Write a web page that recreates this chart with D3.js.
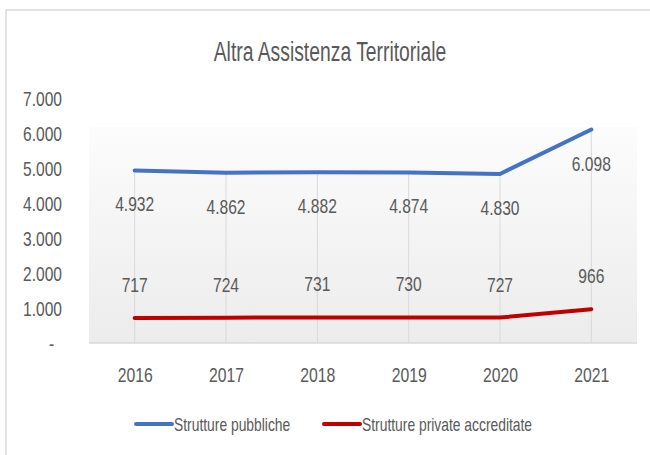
<!DOCTYPE html>
<html>
<head>
<meta charset="utf-8">
<script src="https://cdn.jsdelivr.net/npm/d3@7"></script>
<style>
  body { margin: 0; background: #fff; }
  svg text { font-family: "Liberation Sans", Arial, sans-serif; fill: #595959; }
</style>
</head>
<body>
<svg id="chart" width="650" height="455"></svg>
<script>
// data
const years = ["2016", "2017", "2018", "2019", "2020", "2021"];
const pubbliche = [4932, 4862, 4882, 4874, 4830, 6098];
const private_ = [717, 724, 731, 730, 727, 966];
const yTicks = [0, 1000, 2000, 3000, 4000, 5000, 6000, 7000];
const seriesNames = ["Strutture pubbliche", "Strutture private accreditate"];
const colors = ["#4472C4", "#C00000"];

const svg = d3.select("#chart");
const fmt = (v) => v === 0 ? "-" : d3.format(",")(v).replace(/,/g, ".");

// narrow look: squeeze text horizontally
const squeeze = "scale(0.78,1)";

const plotLeft = 89, plotRight = 637, plotTop = 98, plotBottom = 343;
const bgTop = 127;

const x = d3.scalePoint().domain(years).range([plotLeft, plotRight]).padding(0.5);
const y = d3.scaleLinear().domain([0, 7000]).range([plotBottom, plotTop]);

// outer frame
svg.append("path")
  .attr("d", "M6,455 V10 H650")
  .attr("fill", "none")
  .attr("stroke", "#d9d9d9")
  .attr("stroke-width", 1.5);

// plot background gradient
const grad = svg.append("defs").append("linearGradient")
  .attr("id", "bg").attr("x1", 0).attr("y1", 0).attr("x2", 0).attr("y2", 1);
grad.append("stop").attr("offset", "0%").attr("stop-color", "#fcfcfc");
grad.append("stop").attr("offset", "100%").attr("stop-color", "#ececec");

svg.append("rect")
  .attr("x", plotLeft).attr("y", bgTop)
  .attr("width", plotRight - plotLeft).attr("height", plotBottom - bgTop)
  .attr("fill", "url(#bg)");

// title
svg.append("g")
  .attr("transform", "translate(330,61)")
  .append("text")
  .attr("transform", "scale(0.69,1)")
  .attr("text-anchor", "middle")
  .style("font-size", "28px")
  .text("Altra Assistenza Territoriale");

// drop lines from highest point to the axis
svg.append("g").selectAll("line")
  .data(years).enter().append("line")
  .attr("x1", (d) => x(d)).attr("x2", (d) => x(d))
  .attr("y1", (d, i) => y(Math.max(pubbliche[i], private_[i])))
  .attr("y2", plotBottom)
  .attr("stroke", "#d9d9d9").attr("stroke-width", 1);

// baseline
svg.append("line")
  .attr("x1", plotLeft).attr("x2", plotRight)
  .attr("y1", plotBottom).attr("y2", plotBottom)
  .attr("stroke", "#d9d9d9").attr("stroke-width", 1.5);

// y axis labels
const yAxis = svg.append("g")
  .attr("transform", `translate(62,0)`)
  .call(d3.axisLeft(y).tickValues(yTicks).tickFormat(fmt).tickSize(0).tickPadding(0));
yAxis.select(".domain").remove();
yAxis.selectAll("text")
  .style("font-size", "20px")
  .attr("fill", "#595959")
  .attr("text-anchor", "end")
  .attr("transform", squeeze)
  .attr("dy", "0.36em");
yAxis.selectAll("text").filter((d) => d === 0)
  .attr("x", -10);

// x axis labels
const xAxis = svg.append("g")
  .attr("transform", `translate(0,${plotBottom})`)
  .call(d3.axisBottom(x).tickSize(0).tickPadding(0));
xAxis.select(".domain").remove();
xAxis.selectAll("text")
  .style("font-size", "21px")
  .attr("fill", "#595959")
  .attr("transform", "scale(0.75,1)")
  .attr("y", 39)
  .attr("dy", 0);

// lines
const line = d3.line().x((d, i) => x(years[i])).y((d) => y(d));
[pubbliche, private_].forEach((vals, s) => {
  svg.append("path")
    .datum(vals)
    .attr("d", line)
    .attr("fill", "none")
    .attr("stroke", colors[s])
    .attr("stroke-width", 4)
    .attr("stroke-linecap", "round")
    .attr("stroke-linejoin", "round");
});

// data labels: public below the line, private above
function addLabels(vals, offset) {
  svg.append("g").selectAll("g")
    .data(vals).enter().append("g")
    .attr("transform", (d, i) => `translate(${x(years[i])},${y(d) + offset})`)
    .append("text")
    .attr("transform", squeeze)
    .attr("text-anchor", "middle")
    .style("font-size", "20px")
    .text(fmt);
}
addLabels(pubbliche, 41);
addLabels(private_, -26);

// legend
const legendX = [135, 323];
const legend = svg.append("g").selectAll("g")
  .data(seriesNames).enter().append("g")
  .attr("transform", (d, i) => `translate(${legendX[i]},424)`);
legend.append("line")
  .attr("x1", 1).attr("x2", 37)
  .attr("stroke", (d, i) => colors[i])
  .attr("stroke-width", 4)
  .attr("stroke-linecap", "round");
legend.append("g")
  .attr("transform", "translate(39,7)")
  .append("text")
  .attr("transform", "scale(0.77,1)")
  .style("font-size", "18px")
  .text((d) => d);
</script>
</body>
</html>
